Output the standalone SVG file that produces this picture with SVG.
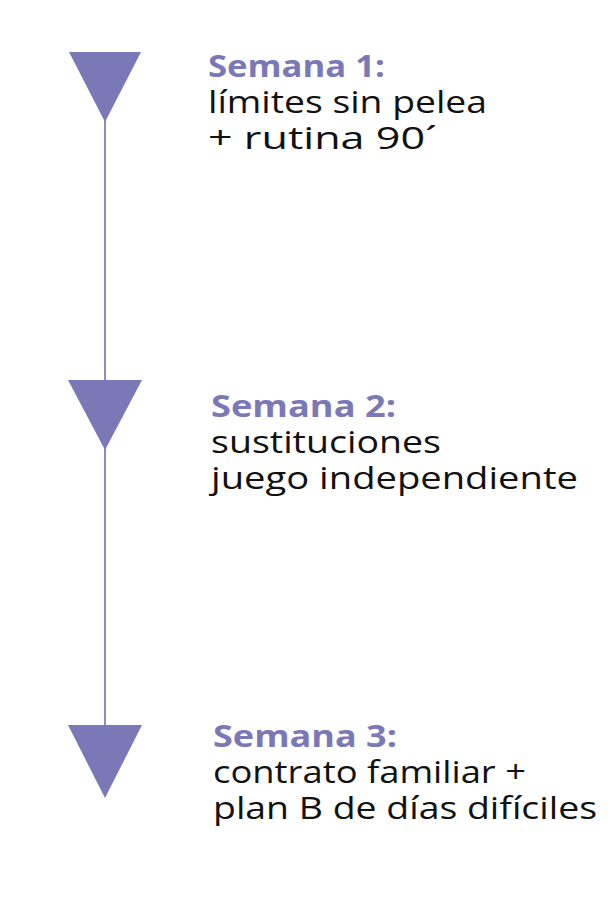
<svg xmlns="http://www.w3.org/2000/svg" width="613" height="898" viewBox="0 0 613 898">
<style>
.h{font-family:"Open Sans","Liberation Sans",sans-serif;font-weight:700;font-size:31px;fill:#7b78b8}
.t{font-family:"Open Sans","Liberation Sans",sans-serif;font-weight:400;font-size:31px;fill:#111}
.tri{fill:#7b78b8}
.ln{stroke:#8f8bc4;stroke-width:2;fill:none}
</style>
<rect width="613" height="898" fill="#fff"/>
<g id="connectors">
<line class="ln" x1="105" y1="118" x2="105" y2="384"/>
<line class="ln" x1="105" y1="446" x2="105" y2="729"/>
</g>
<g id="node1">
<polygon class="tri" points="69,52 141,52 105,122"/>
<text class="h" x="208" y="77" textLength="177" lengthAdjust="spacingAndGlyphs">Semana 1:</text>
<text class="t" x="208" y="113" textLength="279" lengthAdjust="spacingAndGlyphs">límites sin pelea</text>
<text class="t" x="208" y="149" textLength="229" lengthAdjust="spacingAndGlyphs">+ rutina 90´</text>
</g>
<g id="node2">
<polygon class="tri" points="68,380 142,380 105,450"/>
<text class="h" x="211" y="417" textLength="185" lengthAdjust="spacingAndGlyphs">Semana 2:</text>
<text class="t" x="211" y="453" textLength="230" lengthAdjust="spacingAndGlyphs">sustituciones</text>
<text class="t" x="211" y="489" textLength="367" lengthAdjust="spacingAndGlyphs">juego independiente</text>
</g>
<g id="node3">
<polygon class="tri" points="68,725 142,725 105,798"/>
<text class="h" x="213" y="747" textLength="184" lengthAdjust="spacingAndGlyphs">Semana 3:</text>
<text class="t" x="213" y="783" textLength="313" lengthAdjust="spacingAndGlyphs">contrato familiar +</text>
<text class="t" x="213" y="819" textLength="384" lengthAdjust="spacingAndGlyphs">plan B de días difíciles</text>
</g>
</svg>
